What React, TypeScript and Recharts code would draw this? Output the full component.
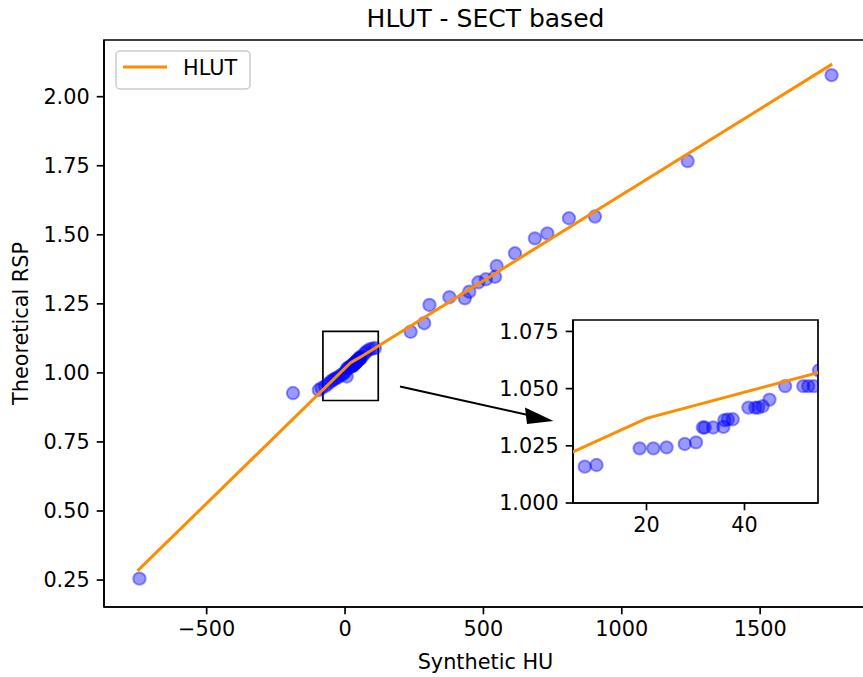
import React from "react";
import { ReferenceArea, Scatter, ScatterChart, XAxis, YAxis } from "recharts";

// HLUT calibration curve (HU -> RSP)
const hlutHu = [-750, 20, 55, 1760];
const hlutRsp = [0.283, 1.037, 1.057, 2.118];

// tissue samples, synthetic HU vs theoretical RSP
const sampleHu = [
  -743, -188, -95, -85, -72, -62, -52, -45, -38, -30, -22, -12, -5, 2, 6,
  7.4, 9.8, 18.6, 21.4, 24.1, 27.8, 30.1, 31.5, 31.9, 33.6, 35.7, 35.9, 36.6, 37.6,
  40.8, 42.2, 42.8, 43.7, 45.1, 48.3, 52.0, 53.0, 54.1, 55.2,
  62, 70, 78, 88, 98, 108,
  237, 286, 305, 377, 433, 449, 482, 509, 542, 548, 614, 686, 731, 809, 903, 1238, 1758,
];
const sampleRsp = [
  0.255, 0.927, 0.938, 0.945, 0.952, 0.96, 0.968, 0.974, 0.978, 0.982, 0.987, 0.993, 0.998, 1.005, 0.987,
  1.0159, 1.0166, 1.0239, 1.0239, 1.0243, 1.0258, 1.0265, 1.033, 1.033, 1.033, 1.0333, 1.0362, 1.0365, 1.0366,
  1.0417, 1.0417, 1.0417, 1.0423, 1.0452, 1.0511, 1.0511, 1.0511, 1.0511, 1.058,
  1.06, 1.07, 1.078, 1.085, 1.088, 1.09,
  1.149, 1.18, 1.246, 1.274, 1.27, 1.294, 1.328, 1.339, 1.348, 1.387, 1.433, 1.487, 1.505, 1.56, 1.566, 1.767, 2.078,
];

const mainXTicks = [-500, 0, 500, 1000, 1500];
const mainYTicks = [0.25, 0.5, 0.75, 1.0, 1.25, 1.5, 1.75, 2.0];
const insetXTicks = [20, 40];
const insetYTicks = [1.0, 1.025, 1.05, 1.075];

const hlut = hlutHu.map((x, i) => ({ x, y: hlutRsp[i] }));
const samples = sampleHu.map((x, i) => ({ x, y: sampleRsp[i] }));

const FONT = "DejaVu Sans";
const ORANGE = "#ff8c00";
const INK = "#000";
const tickStyle = { fill: INK, fontSize: 20.8, fontFamily: FONT };
const lineStyle = { stroke: INK, strokeWidth: 1.7 };

const minus = (v: number) => (v < 0 ? "\u2212" + Math.abs(v) : String(v));

const Dot = (p: any) => (
  <circle
    cx={p.cx}
    cy={p.cy}
    r={6.2}
    fill="#0000ff"
    fillOpacity={0.4}
    stroke="#0000ff"
    strokeOpacity={0.4}
    strokeWidth={2}
  />
);

const NoDot = () => <g />;

export default function App() {
  return (
    <div
      style={{
        position: "absolute",
        left: 0,
        top: 0,
        width: 863,
        height: 677,
        overflow: "hidden",
        background: "#fff",
        fontFamily: FONT,
      }}
    >
      <ScatterChart width={880} height={677} margin={{ top: 40, right: 13, bottom: 0, left: 0 }}>
        <XAxis
          dataKey="x"
          type="number"
          domain={[-871, 1886]}
          ticks={mainXTicks}
          tickFormatter={minus}
          allowDataOverflow
          height={70}
          tick={tickStyle}
          tickSize={7.3}
          tickMargin={7}
          axisLine={lineStyle}
          tickLine={lineStyle}
        />
        <YAxis
          dataKey="y"
          type="number"
          domain={[0.1524, 2.2053]}
          ticks={mainYTicks}
          tickFormatter={(v: number) => v.toFixed(2)}
          allowDataOverflow
          width={104}
          tick={tickStyle}
          tickSize={7.3}
          tickMargin={7}
          axisLine={lineStyle}
          tickLine={lineStyle}
        />
        <ReferenceArea x1={-871} x2={1886} y1={0.1524} y2={2.2053} fill="none" stroke={INK} strokeWidth={1.7} />
        <ReferenceArea x1={-80} x2={120} y1={0.9} y2={1.15} fill="none" stroke={INK} strokeWidth={1.7} fillOpacity={0} />
        <Scatter data={samples} shape={Dot} isAnimationActive={false} />
        <Scatter
          data={hlut}
          line={{ stroke: ORANGE, strokeWidth: 3 }}
          shape={NoDot}
          isAnimationActive={false}
        />
      </ScatterChart>

      <svg
        width={863}
        height={677}
        style={{ position: "absolute", left: 0, top: 0, pointerEvents: "none" }}
        fontFamily={FONT}
      >
        <text x={485.5} y={26.5} textAnchor="middle" fontSize={25} fill={INK}>
          HLUT - SECT based
        </text>
        <text x={485.5} y={669} textAnchor="middle" fontSize={20.8} fill={INK}>
          Synthetic HU
        </text>
        <text x={28} y={323.5} textAnchor="middle" fontSize={20.8} fill={INK} transform="rotate(-90 28 323.5)">
          Theoretical RSP
        </text>
        <rect x={116} y={51} width={134} height={38} rx={4} fill="#fff" fillOpacity={0.8} stroke="#cccccc" strokeWidth={1.5} />
        <line x1={123} y1={67} x2={167} y2={67} stroke={ORANGE} strokeWidth={3} />
        <text x={183} y={75} fontSize={20.8} fill={INK}>
          HLUT
        </text>
        <line x1={400} y1={386.5} x2={528} y2={415} stroke={INK} strokeWidth={2} />
        <polygon points="553.5,421 525,407.5 527,424" fill={INK} />
      </svg>

      <div style={{ position: "absolute", left: 480, top: 310, width: 345, height: 240 }}>
        <div style={{ position: "absolute", left: 93, top: 10, width: 245, height: 183, background: "#fff" }} />
        <div style={{ position: "absolute", left: 0, top: 0 }}>
          <ScatterChart width={345} height={240} margin={{ top: 10, right: 7, bottom: 0, left: 0 }}>
            <XAxis
              dataKey="x"
              type="number"
              domain={[5, 55]}
              ticks={insetXTicks}
              allowDataOverflow
              height={47}
              tick={tickStyle}
              tickSize={7.3}
              tickMargin={7}
              axisLine={lineStyle}
              tickLine={lineStyle}
            />
            <YAxis
              dataKey="y"
              type="number"
              domain={[1.0, 1.08]}
              ticks={insetYTicks}
              tickFormatter={(v: number) => v.toFixed(3)}
              allowDataOverflow
              width={93}
              tick={tickStyle}
              tickSize={7.3}
              tickMargin={7}
              axisLine={lineStyle}
              tickLine={lineStyle}
            />
            <Scatter data={samples} shape={Dot} isAnimationActive={false} />
            <Scatter
              data={hlut}
              line={{ stroke: ORANGE, strokeWidth: 3 }}
              shape={NoDot}
              isAnimationActive={false}
            />
            <ReferenceArea x1={5} x2={55} y1={1.0} y2={1.08} fill="none" stroke={INK} strokeWidth={1.7} />
          </ScatterChart>
        </div>
      </div>
    </div>
  );
}
